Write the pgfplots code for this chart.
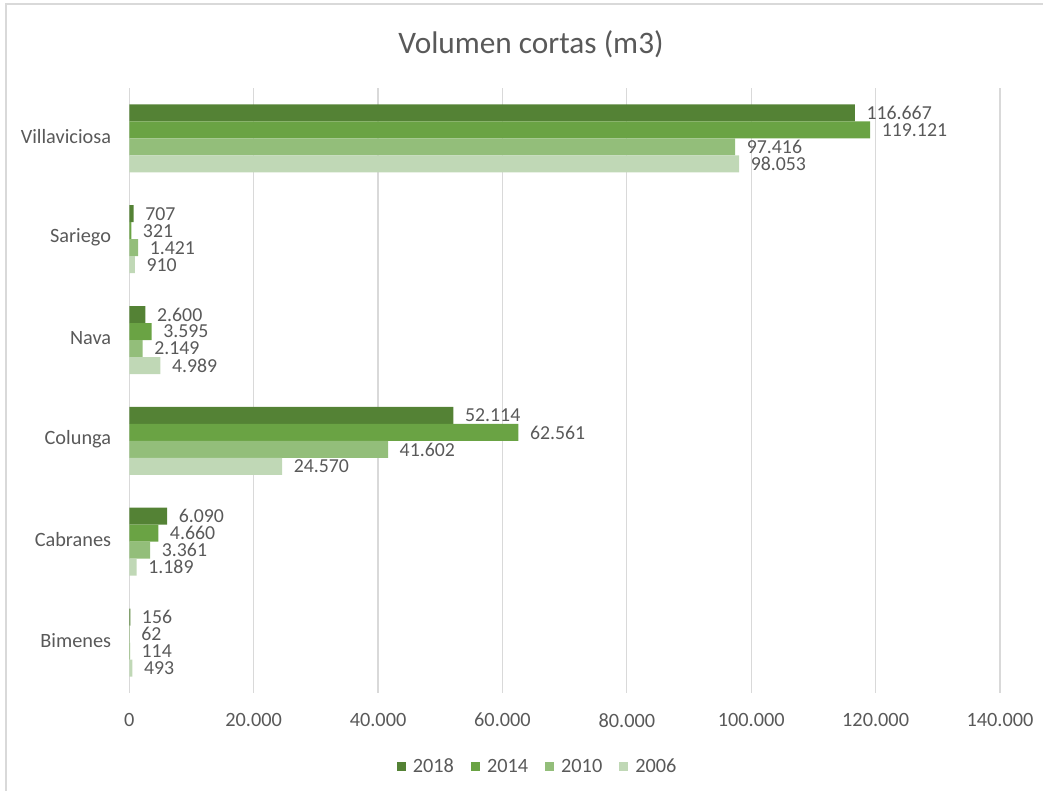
\documentclass[border=0pt]{standalone}
\usepackage{pgfplots}
\usepackage{pgfplotstable}
\pgfplotsset{compat=1.18}
\usepackage{fontspec}
\setmainfont{Carlito}
\definecolor{c2018}{RGB}{84,130,53}
\definecolor{c2014}{RGB}{106,163,68}
\definecolor{c2010}{RGB}{147,190,122}
\definecolor{c2006}{RGB}{192,216,182}
\definecolor{txt}{RGB}{89,89,89}
\definecolor{grd}{RGB}{217,217,217}

\pgfplotstableread{
idx y2018 y2014 y2010 y2006
0 156 62 114 493
1 6090 4660 3361 1189
2 52114 62561 41602 24570
3 2600 3595 2149 4989
4 707 321 1421 910
5 116667 119121 97416 98053
}\data

\begin{document}
\begin{tikzpicture}[x=1pt,y=1pt]
\useasboundingbox (-129.3,-98) rectangle (913.7,693);
\begin{scope}
\clip (-129.3,-98) rectangle (913.7,693);
\draw[grd, line width=1.2pt] (-123.3,-200) -- (-123.3,689) -- (1100,689);
\end{scope}
\begin{axis}[
  at={(0pt,0pt)}, anchor=south west,
  scale only axis, width=870.7pt, height=605pt,
  xbar, bar width=17pt,
  xmin=0, xmax=140000,
  ymin=-0.5, ymax=5.5,
  xtick={0,20000,40000,60000,80000,100000,120000,140000},
  ytick={0,1,2,3,4,5},
  yticklabels={Bimenes,Cabranes,Colunga,Nava,Sariego,Villaviciosa},
  scaled x ticks=false,
  major tick length=0pt,
  axis line style={draw=none},
  xmajorgrids, major grid style={draw=grd, line width=1.2pt},
  tick label style={font=\fontsize{20.3}{24}\selectfont, text=txt, inner sep=0pt},
  yticklabel style={anchor=east, xshift=-18pt, yshift=2pt},
  xticklabel style={anchor=north, yshift=-20pt,
    /pgf/number format/fixed, /pgf/number format/1000 sep={.},
    /pgf/number format/assume math mode=true},
  point meta=x,
  nodes near coords={\pgfmathprintnumber[fixed,precision=0,1000 sep={.},assume math mode=true]{\pgfplotspointmeta}},
  nodes near coords style={anchor=west, inner sep=0pt, xshift=11.5pt, font=\fontsize{19.8}{23}\selectfont, text=txt},
  legend columns=4,
  legend style={at={(0.469,-0.121)}, anchor=center, draw=none, fill=none,
    font=\fontsize{20.3}{24}\selectfont, text=txt,
    /tikz/every even column/.append style={column sep=15pt}},
  legend image code/.code={\fill[#1] (0pt,-4.5pt) rectangle (9pt,4.5pt); \path (14pt,0pt);},
  clip=false,
]
\addplot[fill=c2018, draw=none, bar shift=25.5pt] table[x=y2018, y=idx] {\data};
\addplot[fill=c2014, draw=none, bar shift=8.5pt] table[x=y2014, y=idx] {\data};
\addplot[fill=c2010, draw=none, bar shift=-8.5pt] table[x=y2010, y=idx] {\data};
\addplot[fill=c2006, draw=none, bar shift=-25.5pt] table[x=y2006, y=idx] {\data};
\legend{2018,2014,2010,2006}
\end{axis}
\node[font=\fontsize{31.3}{37}\selectfont, text=txt, anchor=base] at (401.7,639) {Volumen cortas (m3)};
\end{tikzpicture}
\end{document}
